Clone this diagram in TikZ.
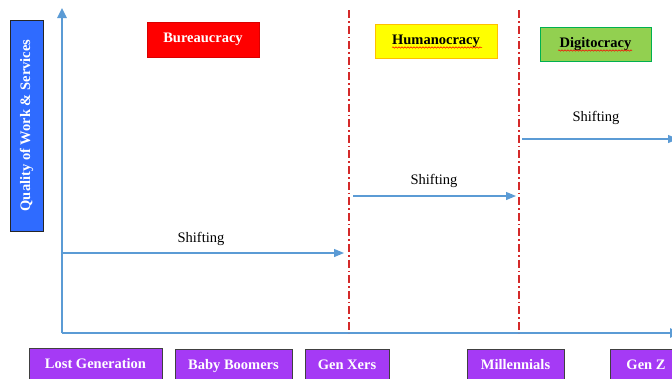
\documentclass[tikz,border=0pt]{standalone}
\usepackage{fontspec}
\setmainfont{Liberation Serif}
\usetikzlibrary{arrows.meta,decorations.pathmorphing}
\definecolor{axisblue}{HTML}{5B9BD5}
\definecolor{labelblue}{HTML}{2F6BFF}
\definecolor{eraRed}{HTML}{FF0000}
\definecolor{eraYellow}{HTML}{FFFF00}
\definecolor{eraYellowB}{HTML}{FFC000}
\definecolor{eraGreen}{HTML}{92D050}
\definecolor{eraGreenB}{HTML}{00B050}
\definecolor{genPurple}{HTML}{A53AF5}
\definecolor{dividerRed}{HTML}{D42A2A}
\tikzset{
  txt/.style={font=\fontsize{14.5}{16}\selectfont},
  erabox/.style={txt,font=\fontsize{14.5}{16}\selectfont\bfseries,inner sep=0pt,line width=0.8pt},
  genbox/.style={font=\fontsize{14.5}{16}\selectfont\bfseries,text=white,fill=genPurple,draw=black!75,line width=0.8pt,anchor=north,inner xsep=0pt,inner ysep=3pt,text height=17pt,text depth=22pt},
  axisline/.style={draw=axisblue,line width=2.4pt,-{Triangle[length=10pt,width=9pt]}},
  shiftarrow/.style={draw=axisblue,line width=1.2pt,-{Triangle[length=10pt,width=8pt]}},
  divider/.style={draw=dividerRed,line width=1.6pt,dash pattern=on 8pt off 3pt on 1.6pt off 3pt},
  squiggle/.style={draw=red,line width=0.5pt,decorate,decoration={snake,amplitude=0.7pt,segment length=3pt}}
}
\begin{document}
\begin{tikzpicture}[x=1pt,y=-1pt]
\useasboundingbox (0,0) rectangle (672,378);
% axes
\coordinate (origin) at (62,333);
\coordinate (ytop) at (62,8);
\coordinate (xend) at (680,333);
\draw[axisline] (origin) -- (ytop);
\draw[axisline] (origin) -- (xend);
% dividers
\coordinate (d1t) at (349,10);
\coordinate (d1b) at (349,333);
\coordinate (d2t) at (519,10);
\coordinate (d2b) at (519,333);
\draw[divider] (d1t) -- (d1b);
\draw[divider] (d2t) -- (d2b);
% y label
\node[rotate=90,fill=labelblue,draw=black!85,line width=0.8pt,minimum width=211pt,minimum height=33pt,inner sep=0pt,text=white,font=\fontsize{14.5}{16}\selectfont\bfseries] (ylab) at (26.5,125.5) {Quality of Work \& Services};
% era boxes
\node[erabox,fill=eraRed,draw=eraRed!85!black,text=white,minimum width=112pt,minimum height=35pt] (bur) at (203,39.5) {Bureaucracy};
\node[erabox,fill=eraYellow,draw=eraYellowB,text=black,minimum width=122pt,minimum height=34pt] (hum) at (436,41) {Humanocracy};
\node[erabox,fill=eraGreen,draw=eraGreenB,text=black,minimum width=111pt,minimum height=34pt] (dig) at (595.5,44) {Digitocracy};
\coordinate (hs1) at (392,47.5);
\coordinate (hs2) at (482,47.5);
\draw[squiggle] (hs1) -- (hs2);
\coordinate (ds1) at (558,50.5);
\coordinate (ds2) at (632,50.5);
\draw[squiggle] (ds1) -- (ds2);
% shifting arrows
\coordinate (s1a) at (63,253);
\coordinate (s1b) at (344,253);
\coordinate (s2a) at (353,196);
\coordinate (s2b) at (516,196);
\coordinate (s3a) at (522,139);
\coordinate (s3b) at (678,139);
\draw[shiftarrow] (s1a) -- (s1b);
\draw[shiftarrow] (s2a) -- (s2b);
\draw[shiftarrow] (s3a) -- (s3b);
\node[txt] (sh1) at (201,239) {Shifting};
\node[txt] (sh2) at (434,181) {Shifting};
\node[txt] (sh3) at (596,118) {Shifting};
% generation boxes
\node[genbox,minimum width=133pt] (lg) at (95.5,348) {Lost Generation};
\node[genbox,minimum width=117pt] (bb) at (233.5,349) {Baby Boomers};
\node[genbox,minimum width=84pt] (gx) at (347,349) {Gen Xers};
\node[genbox,minimum width=97pt] (mil) at (515.5,349) {Millennials};
\node[genbox,minimum width=72pt] (gz) at (646,349) {Gen Z};
\end{tikzpicture}
\end{document}
